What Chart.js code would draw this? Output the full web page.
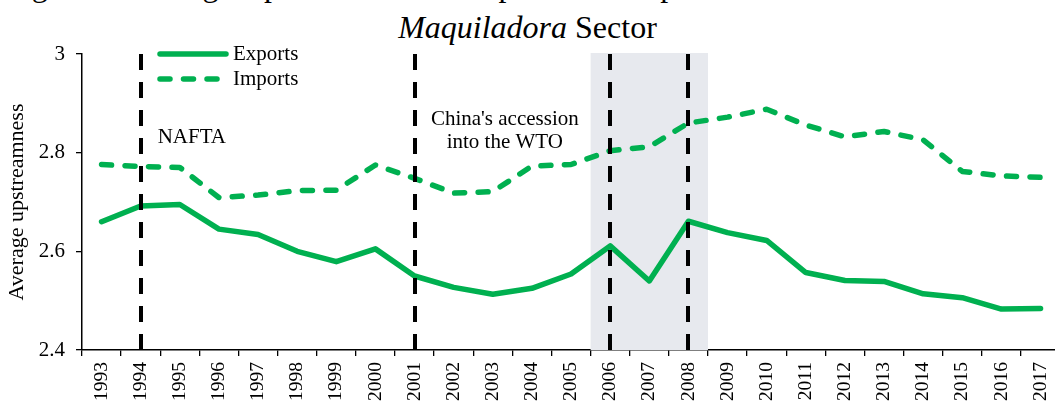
<!DOCTYPE html>
<html>
<head>
<meta charset="utf-8">
<script src="https://cdn.jsdelivr.net/npm/chart.js@4.4.1/dist/chart.umd.min.js"></script>
<style>
  html, body { margin: 0; padding: 0; background: #fff; overflow: hidden; }
  body { width: 1055px; height: 403px; position: relative; }
  .title { position: absolute; font-family: 'Liberation Serif', 'Times New Roman', serif; font-size: 32px; line-height: 36px; color: #000; white-space: nowrap; }
  #title1 { left: 5px; top: -33px; }
  #title2 { left: 0; width: 1055px; top: 9px; text-align: center; }
  #wrap { position: absolute; left: 0; top: 0; width: 1070px; height: 403px; }
</style>
</head>
<body>
<div class="title" id="title1">Figure 5. Average Upstreamness of Exports and Imports in the Mexican Manufacturing and</div>
<div class="title" id="title2"><i>Maquiladora</i> Sector</div>
<div id="wrap"><canvas id="chart"></canvas></div>
<script>
// values
const years = ['1993', '1994', '1995', '1996', '1997', '1998', '1999', '2000', '2001', '2002', '2003', '2004', '2005',
               '2006', '2007', '2008', '2009', '2010', '2011', '2012', '2013', '2014', '2015', '2016', '2017'];
const exportsUp = [2.660, 2.692, 2.695, 2.645, 2.634, 2.600, 2.579, 2.605, 2.550, 2.527, 2.513, 2.525, 2.554,
                   2.611, 2.540, 2.661, 2.638, 2.622, 2.557, 2.541, 2.539, 2.514, 2.506, 2.483, 2.484];
const importsUp = [2.776, 2.772, 2.770, 2.709, 2.714, 2.723, 2.724, 2.775, 2.748, 2.718, 2.721, 2.773, 2.776,
                   2.804, 2.812, 2.860, 2.872, 2.888, 2.856, 2.832, 2.843, 2.826, 2.762, 2.753, 2.750];
const yTicks = [2.4, 2.6, 2.8, 3];
const eventYears = ['1994', '2001', '2006', '2008'];   // dashed markers
const crisisYears = ['2006', '2008'];                  // shaded band (first, last)
const naftaLabel = ['NAFTA'];
const wtoLabel = ["China's accession", 'into the WTO'];

const serif = "'Liberation Serif', 'Times New Roman', serif";
const green = '#00b050';

// shading, event lines, notes and the in-plot legend
const eventsPlugin = {
    id: 'events',
    beforeDatasetsDraw(chart) {
        const { ctx, chartArea: a, scales: { x } } = chart;
        const half = (x.getPixelForValue(1) - x.getPixelForValue(0)) / 2;
        const x0 = x.getPixelForValue(years.indexOf(crisisYears[0])) - half;
        const x1 = x.getPixelForValue(years.indexOf(crisisYears[1])) + half;
        ctx.save();
        ctx.fillStyle = '#e7e9ee';
        ctx.fillRect(x0, a.top - 1, x1 - x0, a.bottom - a.top + 1);
        ctx.restore();
    },
    afterDatasetsDraw(chart) {
        const { ctx, chartArea: a, scales: { x, y } } = chart;
        ctx.save();

        // vertical dashed lines
        ctx.strokeStyle = '#000';
        ctx.lineWidth = 4;
        ctx.setLineDash([16, 12]);
        eventYears.forEach(yr => {
            const px = Math.round(x.getPixelForValue(years.indexOf(yr)));
            ctx.beginPath();
            ctx.moveTo(px, a.top);
            ctx.lineTo(px, a.bottom);
            ctx.stroke();
        });
        ctx.setLineDash([]);

        // notes
        ctx.fillStyle = '#000';
        ctx.font = '21px ' + serif;
        ctx.textBaseline = 'middle';
        ctx.textAlign = 'left';
        naftaLabel.forEach((t, i) => {
            ctx.fillText(t, x.getPixelForValue(years.indexOf('1994')) + 17, y.getPixelForValue(2.830) + i * 23);
        });
        ctx.textAlign = 'center';
        wtoLabel.forEach((t, i) => {
            ctx.fillText(t, x.getPixelForValue(years.indexOf('2003')) + 12, y.getPixelForValue(2.867) + i * 23);
        });

        // legend
        ctx.textAlign = 'left';
        chart.data.datasets.forEach((ds, i) => {
            const ly = a.top + i * 25;
            ctx.strokeStyle = ds.borderColor;
            ctx.lineWidth = ds.borderWidth;
            ctx.lineCap = 'round';
            ctx.setLineDash(ds.borderDash || []);
            ctx.beginPath();
            ctx.moveTo(a.left + 78, ly);
            ctx.lineTo(a.left + 144, ly);
            ctx.stroke();
            ctx.setLineDash([]);
            ctx.fillText(ds.label, a.left + 151, ly);
        });
        ctx.restore();
    }
};

new Chart(document.getElementById('chart'), {
    type: 'line',
    data: {
        labels: years,
        datasets: [
            {
                label: 'Exports',
                data: exportsUp,
                borderColor: green,
                borderWidth: 5.5,
                borderCapStyle: 'round',
                borderJoinStyle: 'round',
                pointRadius: 0,
                tension: 0,
                fill: false
            },
            {
                label: 'Imports',
                data: importsUp,
                borderColor: green,
                borderWidth: 5.5,
                borderDash: [10, 13.5],
                borderCapStyle: 'round',
                borderJoinStyle: 'round',
                pointRadius: 0,
                tension: 0,
                fill: false
            }
        ]
    },
    options: {
        responsive: true,
        maintainAspectRatio: false,
        animation: false,
        layout: { padding: { left: 0, right: 3, top: 54, bottom: 0 } },
        scales: {
            x: {
                offset: true,
                afterFit: s => { s.height = 53; },
                grid: { drawOnChartArea: false, color: '#000', lineWidth: 1.3, tickLength: 6, offset: true },
                border: { color: '#000', width: 1.5 },
                ticks: {
                    autoSkip: false,
                    maxRotation: 90,
                    minRotation: 90,
                    padding: 6,
                    color: '#000',
                    font: { family: serif, size: 19.5 }
                }
            },
            y: {
                min: 2.4,
                max: 3,
                afterFit: s => { s.width = 82; },
                afterBuildTicks: s => { s.ticks = yTicks.map(v => ({ value: v })); },
                grid: { drawOnChartArea: false, color: '#000', lineWidth: 1.3, tickLength: 6 },
                border: { color: '#000', width: 1.5 },
                ticks: {
                    padding: 11,
                    color: '#000',
                    font: { family: serif, size: 21 },
                    callback: v => String(v)
                },
                title: {
                    display: true,
                    text: 'Average upstreamness',
                    color: '#000',
                    font: { family: serif, size: 22 },
                    padding: { top: 4, bottom: 0 }
                }
            }
        },
        plugins: {
            legend: { display: false },
            tooltip: { enabled: false },
            title: { display: false }
        }
    },
    plugins: [eventsPlugin]
});
</script>
</body>
</html>
